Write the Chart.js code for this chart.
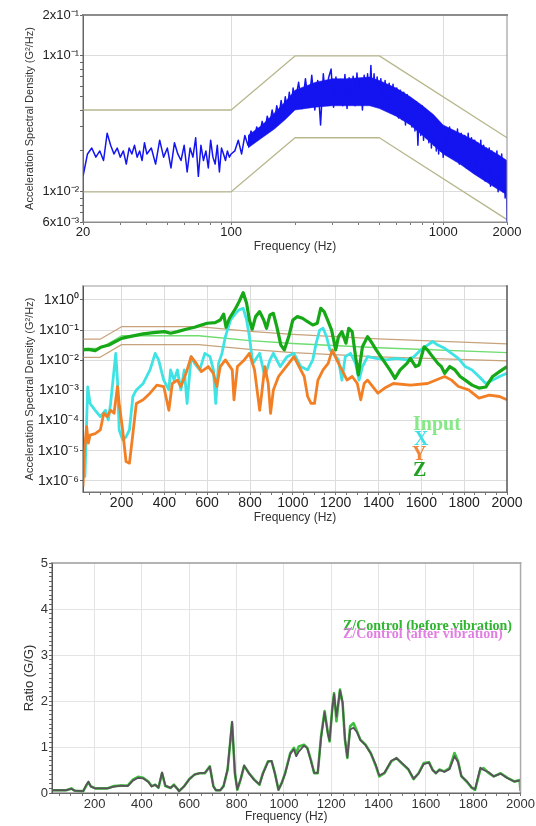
<!DOCTYPE html>
<html><head><meta charset="utf-8">
<script src="https://cdn.jsdelivr.net/npm/chart.js@4.4.1/dist/chart.umd.min.js"></script>
<style>
html,body{margin:0;padding:0;background:#fff;}
body{width:536px;height:826px;position:relative;overflow:hidden;font-family:"Liberation Sans",Arial,sans-serif;}
canvas{position:absolute;left:0;}
.lg{position:absolute;font-family:"Liberation Serif","Times New Roman",serif;font-weight:bold;line-height:1;white-space:nowrap;}
</style></head><body>
<canvas id="c1" width="536" height="260" style="top:0px"></canvas>
<canvas id="c2" width="536" height="260" style="top:270px"></canvas>
<canvas id="c3" width="536" height="286" style="top:540px"></canvas>
<div class="lg" style="left:413px;top:413px;font-size:20px;color:#86e886">Input</div>
<div class="lg" style="left:414px;top:428px;font-size:20px;color:#40e0e6">X</div>
<div class="lg" style="left:412px;top:443px;font-size:20px;color:#f0873a">Y</div>
<div class="lg" style="left:413px;top:459px;font-size:20px;color:#22a022">Z</div>
<div class="lg" style="left:343px;top:619px;font-size:14px;color:#2fb52f">Z/Control (before vibration)</div>
<div class="lg" style="left:343px;top:627px;font-size:14px;color:#e27ee2">Z/Control (after vibration)</div>
<script>
// ---------- Chart 1 : ASD control spectrum (log-log) ----------
const freq1 = [
20,21,22,23,24,25,26,27,28,29,30,31,32,33,34,35,36,37,38,39,40,
42,44,46,48,50,52,54,56,58,60,62,64,66,68,70,72,74,76,78,80,82,84,86,88,90,92,94,96,98,100,
104,108,112,116,120,124,128,132,136,140,144,148,152,156,160,164,168,172,176,180,184,188,192,196,200,
208,216,224,232,240,248,256,264,272,280,288,296,304,312,320,328,336,344,352,360,368,376,384,392,400,408,416,424,432,440,448,456,464,472,480,488,496,
508,520,532,544,556,568,580,592,604,616,628,640,652,664,676,688,700,712,724,736,748,760,772,784,796,808,820,832,844,856,868,880,892,904,916,928,940,952,964,976,988,1000,
1024,1048,1072,1096,1120,1144,1168,1192,1216,1240,1264,1288,1312,1336,1360,1384,1408,1432,1456,1480,1504,1528,1552,1576,1600,1624,1648,1672,1696,1720,1744,1768,1792,1816,1840,1864,1888,1912,1936,1960,1984,2000];
const asd1 = [
.013,.019,.021,.018,.020,.017,.027,.022,.019,.021,.018,.020,.016,.021,.019,.022,.018,.020,.017,.023,.019,
.021,.016,.024,.018,.021,.015,.023,.019,.017,.022,.014,.021,.018,.025,.013,.022,.017,.020,.015,.024,.018,.016,.022,.014,.021,.019,.017,.020,.018,.019,
.020,.024,.019,.026,.022,.028,.024,.030,.026,.033,.028,.036,.031,.040,.033,.043,.036,.047,.038,.050,.040,.054,.042,.058,.045,
.064,.041,.068,.044,.072,.040,.066,.031,.074,.045,.069,.080,.042,.070,.046,.067,.043,.073,.041,.069,.046,.071,.043,.075,.045,.068,.040,.072,.047,.074,.044,.085,.046,.074,.043,.070,.045,
.068,.042,.066,.040,.063,.038,.062,.037,.058,.035,.056,.034,.054,.031,.052,.032,.049,.030,.047,.028,.046,.022,.044,.026,.043,.024,.041,.025,.039,.023,.037,.021,.036,.022,.034,.020,.032,.019,.031,.020,.030,.018,
.029,.019,.030,.018,.028,.017,.029,.016,.027,.017,.026,.015,.027,.015,.025,.014,.024,.015,.023,.013,.024,.013,.022,.012,.021,.013,.021,.011,.020,.012,.019,.011,.020,.010,.018,.011,.019,.010,.017,.009,.016,.006];
// dense-noise band (solid core of the blue trace)
const bandFreq1  = [120,140,160,180,200,250,300,350,400,450,500,600,700,800,900,1000,1200,1400,1600,1800,2000];
const bandUpper1 = [0.026,0.031,0.038,0.046,0.056,0.064,0.068,0.068,0.069,0.070,0.066,0.058,0.050,0.043,0.037,0.031,0.027,0.024,0.021,0.019,0.017];
const bandLower1 = [0.021,0.025,0.029,0.034,0.040,0.042,0.043,0.043,0.043,0.043,0.041,0.036,0.031,0.026,0.022,0.019,0.016,0.0135,0.0118,0.0105,0.0095];
const profFreq1  = [20, 100, 200, 500, 2000];
const profUpper1 = [0.04, 0.04, 0.1, 0.1, 0.025];
const profLower1 = [0.01, 0.01, 0.025, 0.025, 0.00625];
const xTicks1 = [20,30,40,50,60,70,80,90,100,200,300,400,500,600,700,800,900,1000,2000];
const xMajor1 = [20,100,1000,2000];
const xGrid1 = [100,1000];
const yTicks1 = [0.006,0.007,0.008,0.009,0.01,0.02,0.03,0.04,0.05,0.06,0.07,0.08,0.09,0.1,0.2];
const yMajor1 = [0.006,0.01,0.1,0.2];
const yMajorLabels1 = ['6x10\u207B\u00B3','1x10\u207B\u00B2','1x10\u207B\u00B9','2x10\u207B\u00B9'];
const yGrid1 = [0.01,0.1];

// ---------- Chart 2 : X / Y / Z response (linear f, log ASD) ----------
const zFreq = [20,45,77,102,141,200,237,301,349,400,429,461,501,541,573,600,637,661,677,688,704,733,749,768,784,797,810,826,845,864,877,893,909,925,944,960,981,1000,1021,1045,1069,1093,1114,1130,1146,1162,1181,1200,1213,1229,1248,1261,1277,1293,1306,1325,1349,1365,1389,1421,1453,1477,1501,1533,1549,1573,1589,1613,1629,1653,1677,1693,1709,1733,1757,1781,1805,1837,1869,1901,1933,1965,2000];
const zVal = [0.022,0.023,0.021,0.027,0.032,0.053,0.061,0.075,0.083,0.089,0.079,0.089,0.107,0.124,0.148,0.169,0.177,0.217,0.34,0.124,0.247,0.53,0.88,1.75,0.78,0.217,0.107,0.28,0.41,0.217,0.115,0.32,0.36,0.13,0.032,0.022,0.061,0.217,0.28,0.247,0.19,0.148,0.169,0.53,0.41,0.217,0.1,0.022,0.061,0.089,0.037,0.115,0.089,0.013,0.0033,0.028,0.061,0.042,0.022,0.0103,0.0048,0.0025,0.0048,0.0079,0.0116,0.0062,0.007,0.028,0.022,0.013,0.0079,0.0062,0.0037,0.0062,0.0048,0.0029,0.0022,0.0015,0.0012,0.0013,0.0029,0.0042,0.0062];
const xFreq = [21,29,42,53,77,101,125,138,149,165,173,181,189,205,221,237,253,269,301,333,357,373,397,421,429,445,461,477,493,506,525,541,565,589,613,629,640,653,669,685,709,733,749,768,784,797,813,845,869,893,909,941,973,1005,1037,1069,1093,1109,1125,1141,1157,1173,1189,1213,1229,1245,1269,1293,1309,1325,1349,1389,1437,1485,1533,1565,1597,1629,1653,1677,1709,1741,1773,1805,1837,1869,1901,1933,1965,2000];
const xVal = [6.4e-6,1.4e-6,1.3e-3,3.7e-4,2.2e-4,1.35e-4,2.2e-4,1.05e-4,3.7e-4,4.8e-3,0.017,2.2e-3,4.9e-5,2.3e-5,2.9e-5,4.9e-5,6.3e-4,1.04e-3,1.7e-3,4.8e-3,0.017,0.0103,2.2e-3,1.04e-3,4.8e-3,2.2e-3,4.8e-3,1.04e-3,4.8e-3,3.7e-4,0.0132,0.0079,4.8e-3,0.017,0.0132,4.8e-3,3.7e-4,0.0079,0.017,0.061,0.217,0.36,0.47,0.53,0.217,0.061,0.0079,0.017,2.9e-3,0.0103,0.017,6.2e-3,0.0132,0.017,6.2e-3,4.8e-3,0.0103,0.037,0.1,0.115,0.061,0.022,0.017,0.0103,2.2e-3,0.0132,0.017,0.0079,2.2e-3,6.2e-3,0.0132,0.0116,0.0103,0.0116,0.0103,0.0132,0.022,0.032,0.042,0.032,0.025,0.017,0.0116,6.2e-3,4.8e-3,2.9e-3,1.7e-3,2.2e-3,2.9e-3,3.7e-3];
const yFreq = [20,26,37,45,53,77,101,117,133,149,165,181,189,205,221,237,253,269,301,333,365,397,421,437,461,477,501,525,549,573,605,629,645,661,685,717,725,741,773,797,821,845,853,869,885,896,909,933,957,981,1005,1029,1053,1069,1085,1101,1117,1141,1165,1184,1205,1229,1253,1277,1301,1317,1333,1349,1373,1397,1429,1469,1549,1629,1709,1741,1773,1821,1869,1917,1965,2000];
const yVal = [6.5e-7,8.3e-6,6.3e-5,1.8e-5,3.3e-5,3.7e-5,4.9e-5,1.75e-4,1.35e-4,2.2e-4,1.75e-4,1.35e-3,3.7e-4,4.9e-5,4.4e-6,3.9e-6,3.7e-5,3.7e-4,4.9e-4,8.1e-4,1.5e-3,1.35e-3,2.2e-4,1.7e-3,2.2e-3,1.35e-3,3.7e-3,0.0132,0.0079,4.2e-3,6.2e-3,3.7e-3,1.35e-3,6.2e-3,0.0103,4.8e-3,4.9e-4,6.2e-3,0.0103,0.017,4.8e-3,2.2e-4,6.3e-4,6.2e-3,1.7e-3,1.75e-4,1.04e-3,2.9e-3,4.8e-3,7.9e-3,0.0132,6.2e-3,2.9e-3,6.3e-4,3.7e-4,3.7e-4,2.2e-3,4.8e-3,7.9e-3,0.022,0.0103,4.8e-3,2.2e-3,2.9e-3,1.7e-3,4.9e-4,1.7e-3,2.2e-3,1.35e-3,8.1e-4,1.2e-3,1.7e-3,1.5e-3,1.7e-3,2.9e-3,2.2e-3,1.35e-3,1.04e-3,5.6e-4,7e-4,6.3e-4,4.9e-4];
const profFreq2  = [20, 100, 200, 560, 800, 1000, 1400, 2000];
const profUpper2 = [0.05, 0.05, 0.13, 0.13, 0.091, 0.072, 0.051, 0.035];
const profInput2 = [0.025, 0.025, 0.065, 0.065, 0.045, 0.036, 0.026, 0.018];
const profLower2 = [0.0125, 0.0125, 0.033, 0.033, 0.023, 0.018, 0.013, 0.0095];
const xMajor2 = [200,400,600,800,1000,1200,1400,1600,1800,2000];
const yTicks2 = [1e-6,1e-5,1e-4,1e-3,1e-2,1e-1,1];
const yLabels2 = ['1x10\u207B\u2076','1x10\u207B\u2075','1x10\u207B\u2074','1x10\u207B\u00B3','1x10\u207B\u00B2','1x10\u207B\u00B9','1x10\u2070'];

// ---------- Chart 3 : transmissibility ratio ----------
const freq3 = [22,80,102,116,152,164,174,184,203,253,
282,311,340,362,384,405,427,441,456,470,
485,499,521,535,550,557,579,600,622,644,
666,687,702,713,731,745,762,781,793,803,
817,832,853,875,897,911,933,948,962,977,
991,1005,1027,1042,1052,1063,1085,1099,1114,1128,
1143,1157,1172,1186,1193,1205,1212,1222,1237,1248,
1258,1268,1280,1294,1309,1323,1345,1367,1389,1403,
1425,1454,1476,1497,1526,1548,1569,1591,1613,1628,
1642,1657,1678,1700,1721,1736,1750,1772,1794,1808,
1830,1844,1866,1887,1916,1945,1974,1996,2000];
const ratioBefore = [0.06,0.06,0.10,0.05,0.04,0.15,0.23,0.15,0.10,0.10,
0.15,0.16,0.16,0.29,0.35,0.33,0.25,0.15,0.18,0.11,
0.43,0.15,0.11,0.18,0.09,0.04,0.15,0.30,0.40,0.43,
0.43,0.58,0.15,0.06,0.06,0.15,0.50,1.53,0.43,0.07,
0.29,0.59,0.43,0.29,0.18,0.43,0.69,0.69,0.43,0.07,
0.22,0.43,0.87,0.98,0.87,1.01,1.05,0.98,0.72,0.43,
0.43,1.23,1.78,1.30,1.12,1.88,2.17,1.56,2.25,1.96,
1.16,0.76,1.45,1.52,1.34,1.16,1.05,0.87,0.58,0.36,
0.43,0.69,0.76,0.65,0.51,0.30,0.43,0.65,0.67,0.51,
0.43,0.51,0.47,0.54,0.87,0.69,0.36,0.25,0.11,0.07,
0.51,0.54,0.43,0.36,0.43,0.33,0.25,0.28,0.04];
const ratioAfter = [0.06,0.06,0.09,0.05,0.04,0.17,0.25,0.14,0.10,0.10,
0.14,0.16,0.15,0.27,0.33,0.32,0.24,0.14,0.18,0.12,
0.45,0.16,0.11,0.17,0.09,0.04,0.15,0.30,0.40,0.43,
0.44,0.57,0.14,0.06,0.06,0.15,0.52,1.55,0.42,0.08,
0.30,0.60,0.42,0.28,0.19,0.41,0.68,0.70,0.42,0.07,
0.22,0.42,0.85,0.95,0.80,0.90,1.03,0.97,0.70,0.44,
0.44,1.20,1.76,1.28,1.14,1.85,2.15,1.66,2.23,1.97,
1.18,0.78,1.38,1.42,1.32,1.15,1.04,0.86,0.60,0.38,
0.44,0.70,0.76,0.66,0.52,0.31,0.42,0.63,0.66,0.50,
0.43,0.50,0.46,0.52,0.80,0.67,0.37,0.26,0.12,0.08,
0.55,0.50,0.45,0.36,0.42,0.32,0.25,0.27,0.27];
const xMajor3 = [200,400,600,800,1000,1200,1400,1600,1800,2000];
const yMajor3 = [0,1,2,3,4,5];

// ---------- helpers ----------
const SANS = '"Liberation Sans", Arial, Helvetica, sans-serif';
Chart.defaults.font.family = SANS;
Chart.defaults.color = '#333';
const pts = (xs, ys) => xs.map((x, i) => ({x: x, y: ys[i]}));
const clear = 'rgba(0,0,0,0)';

const framePlugin = {
  id: 'frame',
  afterDatasetsDraw(chart, args, o) {
    const {ctx, chartArea: a} = chart;
    ctx.save();
    ctx.lineCap = 'square';
    if (o.top) { ctx.strokeStyle = o.top[0]; ctx.lineWidth = o.top[1];
      ctx.beginPath(); ctx.moveTo(a.left, a.top); ctx.lineTo(a.right, a.top); ctx.stroke(); }
    if (o.right) { ctx.strokeStyle = o.right[0]; ctx.lineWidth = o.right[1];
      ctx.beginPath(); ctx.moveTo(a.right, a.top); ctx.lineTo(a.right, a.bottom); ctx.stroke(); }
    if (o.left) { ctx.strokeStyle = o.left[0]; ctx.lineWidth = o.left[1];
      ctx.beginPath(); ctx.moveTo(a.left, a.top); ctx.lineTo(a.left, a.bottom); ctx.stroke(); }
    if (o.bottom) { ctx.strokeStyle = o.bottom[0]; ctx.lineWidth = o.bottom[1];
      ctx.beginPath(); ctx.moveTo(a.left, a.bottom); ctx.lineTo(a.right, a.bottom); ctx.stroke(); }
    ctx.restore();
  }
};

const baseOpts = {
  responsive: false, animation: false, devicePixelRatio: 1,
  elements: { point: { radius: 0 }, line: { tension: 0, borderJoinStyle: 'round' } },
};

// ---------- Chart 1 ----------
new Chart(document.getElementById('c1'), {
  type: 'line',
  data: { datasets: [
    { data: pts(freq1, asd1), borderColor: '#1414f0', borderWidth: 1.5, order: 0 },
    { data: pts(profFreq1, profUpper1), borderColor: '#b8b78e', borderWidth: 1.3, order: 2 },
    { data: pts(profFreq1, profLower1), borderColor: '#b8b78e', borderWidth: 1.3, order: 2 },
    { data: pts(bandFreq1, bandUpper1), borderColor: '#1414f0', borderWidth: 0.5, backgroundColor: '#1414f0', fill: '+1', order: 1 },
    { data: pts(bandFreq1, bandLower1), borderColor: '#1414f0', borderWidth: 0.5, order: 1 }
  ]},
  options: Object.assign({}, baseOpts, {
    layout: { padding: { left: 19, right: 29, top: 15, bottom: 0 } },
    plugins: { legend: { display: false }, tooltip: { enabled: false },
      frame: { top: ['#8c8c8c', 2], right: ['#8c8c8c', 1], left: ['#666', 1], bottom: ['#8c8c8c', 1] } },
    scales: {
      x: { type: 'logarithmic', min: 20, max: 2000,
        afterBuildTicks: s => { s.ticks = xTicks1.map(v => ({ value: v })); },
        afterFit: s => { s.height = 38; },
        ticks: { autoSkip: false, maxRotation: 0, padding: 0, font: { size: 13 }, color: '#222',
          callback: v => xMajor1.includes(v) ? String(v) : '' },
        grid: { color: c => (c.tick && xGrid1.includes(c.tick.value)) ? '#dcdcdc' : clear,
          tickColor: '#777', tickLength: 3 },
        border: { color: '#8c8c8c' },
        title: { display: true, text: 'Frequency (Hz)', font: { size: 12 }, color: '#333', padding: { top: 0, bottom: 6 } } },
      y: { type: 'logarithmic', min: 0.006, max: 0.2,
        afterBuildTicks: s => { s.ticks = yTicks1.map(v => ({ value: v })); },
        afterFit: s => { s.width = 64; },
        ticks: { autoSkip: false, padding: 1, font: { size: 13 }, color: '#222',
          callback: v => { const i = yMajor1.indexOf(v); return i >= 0 ? yMajorLabels1[i] : ''; } },
        grid: { color: c => (c.tick && yGrid1.includes(c.tick.value)) ? '#dcdcdc' : clear,
          tickColor: '#666', tickLength: 3 },
        border: { color: '#666' },
        title: { display: true, text: 'Acceleration Spectral Density (G\u00B2/Hz)', font: { size: 11 }, color: '#333', padding: { top: 4, bottom: 0 } } }
    }
  }),
  plugins: [framePlugin]
});

// ---------- Chart 2 ----------
const minor2 = []; for (let f = 50; f <= 2000; f += 50) minor2.push(f);
new Chart(document.getElementById('c2'), {
  type: 'line',
  data: { datasets: [
    { label: 'Z', data: pts(zFreq, zVal), borderColor: '#16a816', borderWidth: 3.2, order: 0 },
    { label: 'Y', data: pts(yFreq, yVal), borderColor: '#f27f24', borderWidth: 2.8, order: 1 },
    { label: 'X', data: pts(xFreq, xVal), borderColor: '#3fe3e3', borderWidth: 2.8, order: 2 },
    { label: 'Input', data: pts(profFreq2, profInput2), borderColor: '#6fdc6f', borderWidth: 1.3, order: 3 },
    { data: pts(profFreq2, profUpper2), borderColor: '#c7a27a', borderWidth: 1.2, order: 4 },
    { data: pts(profFreq2, profLower2), borderColor: '#c7a27a', borderWidth: 1.2, order: 4 }
  ]},
  options: Object.assign({}, baseOpts, {
    layout: { padding: { left: 19, right: 29, top: 16, bottom: 0 } },
    plugins: { legend: { display: false }, tooltip: { enabled: false },
      frame: { top: ['#9a9a9a', 1], right: ['#555', 1.5], left: ['#555', 1], bottom: ['#777', 1] } },
    scales: {
      x: { type: 'linear', min: 20, max: 2000,
        afterBuildTicks: s => { s.ticks = minor2.map(v => ({ value: v })); },
        afterFit: s => { s.height = 38; },
        ticks: { autoSkip: false, maxRotation: 0, padding: 0, font: { size: 14 }, color: '#222',
          callback: v => xMajor2.includes(v) ? String(v) : '' },
        grid: { color: c => (c.tick && xMajor2.includes(c.tick.value) && c.tick.value < 2000) ? '#dcdcdc' : clear,
          tickColor: '#777', tickLength: 3 },
        border: { color: '#777' },
        title: { display: true, text: 'Frequency (Hz)', font: { size: 12 }, color: '#333', padding: { top: 0, bottom: 5 } } },
      y: { type: 'logarithmic', min: 4.3e-7, max: 2.9,
        afterBuildTicks: s => { s.ticks = yTicks2.map(v => ({ value: v })); },
        afterFit: s => { s.width = 64; },
        ticks: { autoSkip: false, padding: 1, font: { size: 14 }, color: '#222',
          callback: v => { const i = yTicks2.indexOf(v); return i >= 0 ? yLabels2[i] : ''; } },
        grid: { color: '#dcdcdc', tickColor: '#666', tickLength: 3 },
        border: { color: '#555' },
        title: { display: true, text: 'Acceleration Spectral Density (G\u00B2/Hz)', font: { size: 11 }, color: '#333', padding: { top: 4, bottom: 0 } } }
    }
  }),
  plugins: [framePlugin]
});

// ---------- Chart 3 ----------
const minor3x = []; for (let f = 50; f <= 2000; f += 50) minor3x.push(f);
const minor3y = []; for (let i = 0; i <= 50; i++) minor3y.push(i / 10);
new Chart(document.getElementById('c3'), {
  type: 'line',
  data: { datasets: [
    { label: 'Z/Control (after vibration)', data: pts(freq3, ratioAfter), borderColor: '#5a525a', borderWidth: 1.8, order: 0 },
    { label: 'Z/Control (before vibration)', data: pts(freq3, ratioBefore), borderColor: '#3cbf3c', borderWidth: 2.6, order: 1 }
  ]},
  options: Object.assign({}, baseOpts, {
    layout: { padding: { left: 18, right: 12, top: 23, bottom: 0 } },
    plugins: { legend: { display: false }, tooltip: { enabled: false },
      frame: { top: ['#9a9a9a', 1.5], right: ['#aaa', 1.5], left: ['#555', 1], bottom: ['#666', 1] } },
    scales: {
      x: { type: 'linear', min: 20, max: 2000,
        afterBuildTicks: s => { s.ticks = minor3x.map(v => ({ value: v })); },
        afterFit: s => { s.height = 33; },
        ticks: { autoSkip: false, maxRotation: 0, padding: 1, font: { size: 13 }, color: '#333',
          callback: v => xMajor3.includes(v) ? String(v) : '' },
        grid: { color: c => (c.tick && xMajor3.includes(c.tick.value) && c.tick.value < 2000) ? '#e4e4e4' : clear,
          tickColor: '#777', tickLength: 3 },
        border: { color: '#666' },
        title: { display: true, text: 'Frequency (Hz)', font: { size: 12 }, color: '#333', padding: { top: 0, bottom: 2 } } },
      y: { type: 'linear', min: 0, max: 5,
        afterBuildTicks: s => { s.ticks = minor3y.map(v => ({ value: v })); },
        afterFit: s => { s.width = 34; },
        ticks: { autoSkip: false, padding: 1, font: { size: 13 }, color: '#333',
          callback: v => yMajor3.includes(v) ? String(v) : '' },
        grid: { color: c => (c.tick && yMajor3.includes(c.tick.value) && c.tick.value > 0 && c.tick.value < 5) ? '#e4e4e4' : clear,
          tickColor: '#666', tickLength: 3 },
        border: { color: '#555' },
        title: { display: true, text: 'Ratio (G/G)', font: { size: 13 }, color: '#333', padding: { top: 4, bottom: 0 } } }
    }
  }),
  plugins: [framePlugin]
});
</script>
</body></html>
